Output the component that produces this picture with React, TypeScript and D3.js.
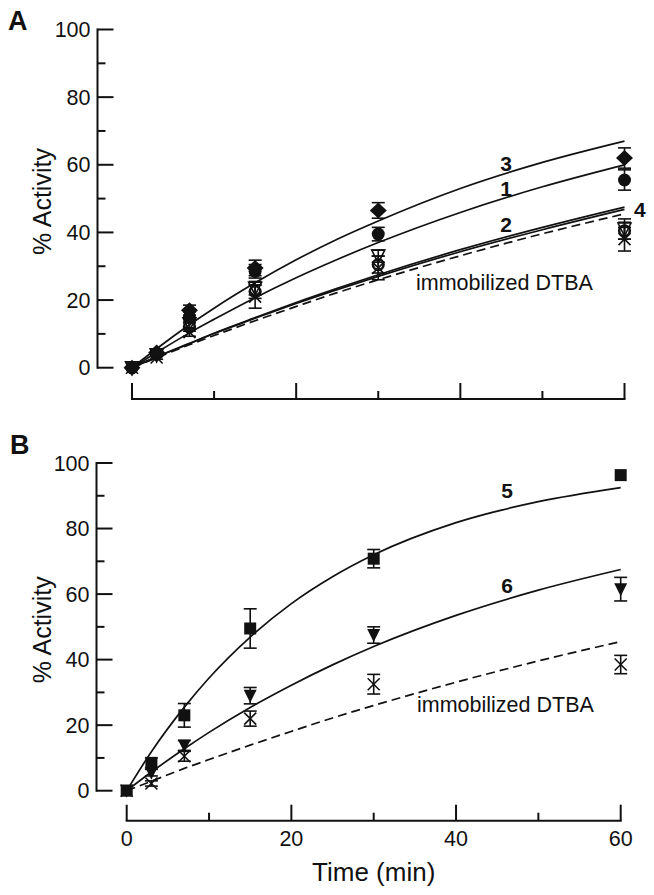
import React from 'react';
import * as d3 from 'd3';

// ---------- data ----------
const TIMES = [0, 3, 7, 15, 30, 60];
const Y_TICKS = [0, 20, 40, 60, 80, 100];
const X_TICKS = [0, 20, 40, 60];

// Panel A – measured points (% activity) and error (±)
const A_DIAMOND = [0, 4.5, 17, 29.5, 46.5, 62];
const A_DIAMOND_ERR = [0, 0.8, 1.5, 2.3, 2.3, 3];
const A_CIRCLE = [0, 4.2, 15, 28.5, 39.5, 55.5];
const A_CIRCLE_ERR = [0, 0.8, 1.5, 2, 2, 3];
const A_OPEN_TRI = [0, 3.8, 13, 23.5, 33, 41];
const A_OPEN_TRI_ERR = [0, 0.5, 1.2, 2, 1.8, 3];
const A_OPEN_CIRCLE = [0, 4, 12, 22.5, 30.5, 40.5];
const A_OPEN_CIRCLE_ERR = [0, 0.5, 1.2, 2, 2.5, 2.5];
const A_CROSS = [0, 3, 10.5, 21, 29.5, 38];
const A_CROSS_ERR = [0, 0.5, 1.2, 3.4, 3.5, 3.5];

// Panel B – measured points
const B_SQUARE = [0, 8.5, 23, 49.5, 70.8, 96.3];
const B_SQUARE_ERR = [0, 1.5, 3.6, 6, 2.8, 0];
const B_TRI = [0, 5.5, 13.8, 29, 47.5, 61.5];
const B_TRI_ERR = [0, 1, 1.5, 2.5, 2.5, 3.6];
const B_CROSS = [0, 2.2, 10.5, 22, 32.5, 38.5];
const B_CROSS_ERR = [0, 0.8, 1.5, 2.3, 3, 2.8];

// Fitted curves
const CURVE_T = [0, 3, 7, 10, 15, 20, 25, 30, 40, 50, 60];
const CURVE_1 = [0, 4.5, 10.3, 14.3, 20.7, 26.6, 32.0, 37.0, 45.9, 53.5, 60.0];
const CURVE_2 = [0, 3.2, 7.2, 10.2, 14.8, 19.3, 23.5, 27.5, 34.9, 41.5, 47.5];
const CURVE_3 = [0, 5.6, 12.7, 17.6, 25.1, 31.9, 38.0, 43.4, 53.0, 60.7, 67.0];
const CURVE_4 = [0, 3.2, 7.1, 10.1, 14.6, 19.0, 23.1, 27.0, 34.3, 40.8, 46.8];
const CURVE_5 = [0, 11.9, 25.5, 34.4, 46.9, 57.1, 65.3, 72.0, 81.8, 88.2, 92.5];
const CURVE_6 = [0, 5.7, 12.8, 17.8, 25.4, 32.2, 38.4, 44.0, 53.5, 61.2, 67.5];
const CURVE_DTBA = [0, 2.9, 6.8, 9.5, 13.9, 18.1, 22.2, 26.0, 33.1, 39.6, 45.5];

const CURVE_NAMES_A = ['3', '1', '2', '4'];
const CURVE_NAMES_B = ['5', '6'];
const DTBA_LABEL = 'immobilized DTBA';

// ---------- style ----------
const FONT = '"Liberation Sans", Arial, Helvetica, sans-serif';
const INK = '#111';

type Scale = d3.ScaleLinear<number, number>;

function Axes({ xs, ys, axisX, axisY, xLabels }: { xs: Scale; ys: Scale; axisX: number; axisY: number; xLabels: boolean }) {
  const [yb, yt] = ys.range();
  const [xl, xr] = xs.range();
  const yAll = ys.ticks(10);
  const xAll = xs.ticks(6);
  return (
    <g>
      <g stroke={INK} strokeWidth={2} fill="none">
        <line x1={axisX} x2={axisX} y1={yb + 1} y2={yt - 1} />
        {yAll.map(v => (
          <line key={'y' + v} x1={axisX} x2={axisX + (v % 20 === 0 ? 16 : 8)} y1={ys(v)} y2={ys(v)} />
        ))}
        <line x1={xl - 1} x2={xr + 1} y1={axisY} y2={axisY} />
        {xAll.map(v => (
          <line key={'x' + v} x1={xs(v)} x2={xs(v)} y1={axisY} y2={axisY - (v % 20 === 0 ? 16 : 8)} />
        ))}
      </g>
      <g fontFamily={FONT} fontSize={21.5} fill={INK}>
        {Y_TICKS.map(v => (
          <text key={'yl' + v} x={axisX - 7} y={ys(v) + 7.5} textAnchor="end">{v}</text>
        ))}
        {xLabels && X_TICKS.map(v => (
          <text key={'xl' + v} x={xs(v)} y={axisY + 25} textAnchor="middle">{v}</text>
        ))}
      </g>
      <text
        fontFamily={FONT}
        fontSize={25}
        fill={INK}
        textAnchor="middle"
        transform={`translate(51,${(yb + yt) / 2 + 3}) rotate(-90)`}
      >% Activity</text>
    </g>
  );
}

function Marker({ shape, cx, cy }: { shape: string; cx: number; cy: number }) {
  switch (shape) {
    case 'diamond':
      return <path d={`M${cx},${cy - 8}L${cx + 8.5},${cy}L${cx},${cy + 8}L${cx - 8.5},${cy}Z`} fill={INK} />;
    case 'circle':
      return <circle cx={cx} cy={cy} r={6.5} fill={INK} />;
    case 'openCircle':
      return <circle cx={cx} cy={cy} r={5.3} fill="none" stroke={INK} strokeWidth={2.6} />;
    case 'openTri':
      return <path d={`M${cx - 6.5},${cy - 6}L${cx + 6.5},${cy - 6}L${cx},${cy + 7}Z`} fill="none" stroke={INK} strokeWidth={1.6} />;
    case 'square':
      return <rect x={cx - 6} y={cy - 6} width={12} height={12} fill={INK} />;
    case 'tri':
      return <path d={`M${cx - 6.5},${cy - 6}L${cx + 6.5},${cy - 6}L${cx},${cy + 7}Z`} fill={INK} />;
    case 'cross':
      return (
        <g stroke={INK} strokeWidth={1.6}>
          <line x1={cx - 6} y1={cy - 6} x2={cx + 6} y2={cy + 6} />
          <line x1={cx - 6} y1={cy + 6} x2={cx + 6} y2={cy - 6} />
        </g>
      );
    default:
      return null;
  }
}

function Series({ xs, ys, vals, errs, shape }: { xs: Scale; ys: Scale; vals: number[]; errs: number[]; shape: string }) {
  return (
    <g>
      <g stroke={INK} strokeWidth={1.6}>
        {TIMES.map((t, i) => {
          const e = errs[i];
          if (!e) return null;
          const x = xs(t);
          const yTop = ys(vals[i] + e);
          const yBot = ys(vals[i] - e);
          return (
            <g key={'e' + i}>
              <line x1={x} x2={x} y1={yTop} y2={yBot} />
              <line x1={x - 6.5} x2={x + 6.5} y1={yTop} y2={yTop} />
              <line x1={x - 6.5} x2={x + 6.5} y1={yBot} y2={yBot} />
            </g>
          );
        })}
      </g>
      {TIMES.map((t, i) => (
        <Marker key={'m' + i} shape={shape} cx={xs(t)} cy={ys(vals[i])} />
      ))}
    </g>
  );
}

function Curve({ xs, ys, vals, dashed }: { xs: Scale; ys: Scale; vals: number[]; dashed?: boolean }) {
  const gen = d3.line<number>()
    .x((_, i) => xs(CURVE_T[i]))
    .y(v => ys(v))
    .curve(d3.curveMonotoneX);
  return (
    <path d={gen(vals) || ''} fill="none" stroke={INK} strokeWidth={1.7} strokeDasharray={dashed ? '9,5' : undefined} />
  );
}

export default function App() {
  const xA = d3.scaleLinear().domain([0, 60]).range([132, 624.5]);
  const yA = d3.scaleLinear().domain([0, 100]).range([367.7, 29.5]);
  const xB = d3.scaleLinear().domain([0, 60]).range([126.7, 620.7]);
  const yB = d3.scaleLinear().domain([0, 100]).range([790.7, 463]);

  return (
    <svg width={654} height={895} viewBox="0 0 654 895" style={{ position: 'absolute', left: 0, top: 0, background: '#fff' }}>
      <rect x={0} y={0} width={654} height={895} fill="#fff" />
      {/* Panel A */}
      <text x={8} y={30} fontFamily={FONT} fontWeight="bold" fontSize={27} fill={INK}>A</text>
      <Axes xs={xA} ys={yA} axisX={97.5} axisY={399} xLabels={false} />
      <Curve xs={xA} ys={yA} vals={CURVE_DTBA} dashed />
      <Curve xs={xA} ys={yA} vals={CURVE_4} />
      <Curve xs={xA} ys={yA} vals={CURVE_2} />
      <Curve xs={xA} ys={yA} vals={CURVE_1} />
      <Curve xs={xA} ys={yA} vals={CURVE_3} />
      <Series xs={xA} ys={yA} vals={A_CROSS} errs={A_CROSS_ERR} shape="cross" />
      <Series xs={xA} ys={yA} vals={A_OPEN_CIRCLE} errs={A_OPEN_CIRCLE_ERR} shape="openCircle" />
      <Series xs={xA} ys={yA} vals={A_OPEN_TRI} errs={A_OPEN_TRI_ERR} shape="openTri" />
      <Series xs={xA} ys={yA} vals={A_CIRCLE} errs={A_CIRCLE_ERR} shape="circle" />
      <Series xs={xA} ys={yA} vals={A_DIAMOND} errs={A_DIAMOND_ERR} shape="diamond" />
      <g fontFamily={FONT} fontWeight="bold" fontSize={21} fill={INK}>
        <text x={506} y={171} textAnchor="middle">{CURVE_NAMES_A[0]}</text>
        <text x={506} y={196} textAnchor="middle">{CURVE_NAMES_A[1]}</text>
        <text x={506} y={232} textAnchor="middle">{CURVE_NAMES_A[2]}</text>
        <text x={634} y={217}>{CURVE_NAMES_A[3]}</text>
      </g>
      <text x={416} y={290} fontFamily={FONT} fontSize={21.5} fill={INK}>{DTBA_LABEL}</text>

      {/* Panel B */}
      <text x={10} y={454} fontFamily={FONT} fontWeight="bold" fontSize={27} fill={INK}>B</text>
      <Axes xs={xB} ys={yB} axisX={96.5} axisY={820.7} xLabels={true} />
      <text x={(xB(0) + xB(60)) / 2} y={881} textAnchor="middle" fontFamily={FONT} fontSize={26} fill={INK}>Time (min)</text>
      <Curve xs={xB} ys={yB} vals={CURVE_DTBA} dashed />
      <Curve xs={xB} ys={yB} vals={CURVE_6} />
      <Curve xs={xB} ys={yB} vals={CURVE_5} />
      <Series xs={xB} ys={yB} vals={B_CROSS} errs={B_CROSS_ERR} shape="cross" />
      <Series xs={xB} ys={yB} vals={B_TRI} errs={B_TRI_ERR} shape="tri" />
      <Series xs={xB} ys={yB} vals={B_SQUARE} errs={B_SQUARE_ERR} shape="square" />
      <g fontFamily={FONT} fontWeight="bold" fontSize={21} fill={INK}>
        <text x={507} y={498} textAnchor="middle">{CURVE_NAMES_B[0]}</text>
        <text x={507} y={593} textAnchor="middle">{CURVE_NAMES_B[1]}</text>
      </g>
      <text x={417} y={712} fontFamily={FONT} fontSize={21.5} fill={INK}>{DTBA_LABEL}</text>
    </svg>
  );
}
